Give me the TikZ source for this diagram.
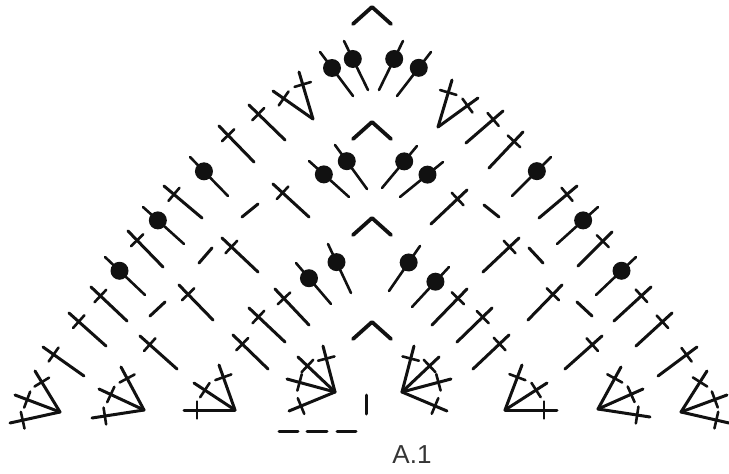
\documentclass[tikz,border=0pt]{standalone}
\usepackage{fontspec}
\setmainfont{Liberation Sans}
\usetikzlibrary{calc}
\definecolor{ink}{HTML}{111111}
\begin{document}
\begin{tikzpicture}[
    x=1pt, y=-1pt,
    yarn/.style={draw=ink, line width=3pt, line cap=round},
    thin yarn/.style={draw=ink, line width=2.6pt, line cap=round},
    bead/.style={fill=ink},
    chev/.style={draw=ink, line width=3.8pt, line cap=round, line join=round},
    lbl/.style={font=\fontsize{26}{26}\selectfont, text=ink!85!white, inner sep=0pt},
  ]
    \useasboundingbox (0,0) rectangle (729,474);

    % crossed stitches, base then tip
    \foreach \bx/\by/\tx/\ty in {
        % left edge
        84/376/43/347, 106/346/69/313, 127/321/91/287, 163/267/128/231,
        202/218/164/186, 254/162/219/126, 285/140/249/105,
        % left inner
        177/369/140/336, 213/320/179/285, 258/272/222/238, 309/217/273/184,
        268/369/233/335, 285/342/249/308, 309/325/275/289,
        % right edge
        658/376/697/347, 636/346/672/313, 614/321/651/287, 578/266/612/232,
        539/218/577/186, 489/168/523/132, 466/143/503/111,
        % right inner
        565/369/602/336, 528/320/562/285, 483/272/519/238, 431/224/467/190,
        473/369/509/335, 457/342/492/308, 432/325/467/289,
        % left fans
        60/412/35/371, 60/412/15/395, 60/412/10/423,
        144/410/121/367, 144/410/99/389, 144/410/92/418,
        235/410/219/365, 235/410/194/383, 235/410/184/410,
        335/392/323/346, 335/392/298/357, 335/392/287/379, 335/392/289/411,
        % right fans
        402/392/414/346, 402/392/439/357, 402/392/451/379, 402/392/447/411,
        505/410/522/365, 505/410/547/383, 505/410/557/410,
        598/409/621/367, 598/409/643/389, 598/409/650/417,
        681/412/707/371, 681/412/727/395, 681/412/729/423,
        % top fans
        313/119/299/72, 313/119/273/91,
        438/127/452/80, 438/127/478/98} {
      \draw[yarn] (\bx,\by) -- (\tx,\ty);
      \draw[thin yarn] ($(\tx,\ty)!13pt!(\bx,\by)!8.5pt!90:(\bx,\by)$) -- ($(\tx,\ty)!13pt!(\bx,\by)!8.5pt!-90:(\bx,\by)$);
    }

    % bead stitches, base then tip
    \foreach \bx/\by/\tx/\ty in {
        145/295/105/257, 184/244/143/207, 228/196/190/157,
        596/295/636/257, 557/244/598/207, 512/196/551/157,
        353/96/320/52, 368/90/344/41, 379/90/403/41, 397/96/431/52,
        349/197/309/161, 367/189/335/145, 382/188/417/146, 400/197/443/162,
        331/304/296/263, 351/293/328/244, 389/291/420/246, 412/307/449/267} {
      \draw[thin yarn] (\bx,\by) -- (\tx,\ty);
      \fill[bead] ($(\tx,\ty)!20pt!(\bx,\by)$) circle (9);
    }

    % short dashes
    \foreach \ax/\ay/\cx/\cy in {
        150/316/165/302, 199/263/212/248, 242/217/258/204,
        484/205/499/217, 529/248/543/263, 577/302/592/316,
        279/431/298/431, 307/431/327/431, 337/431/356/431, 366/395/366/414} {
      \draw[yarn] (\ax,\ay) -- (\cx,\cy);
    }

    % chevrons
    \foreach \py in {7,122,218,322} {
      \draw[chev] (353,\py+17) -- (372,\py) -- (391,\py+17);
    }

    \node[lbl] (title) at (412,455) {A.1};
\end{tikzpicture}
\end{document}
